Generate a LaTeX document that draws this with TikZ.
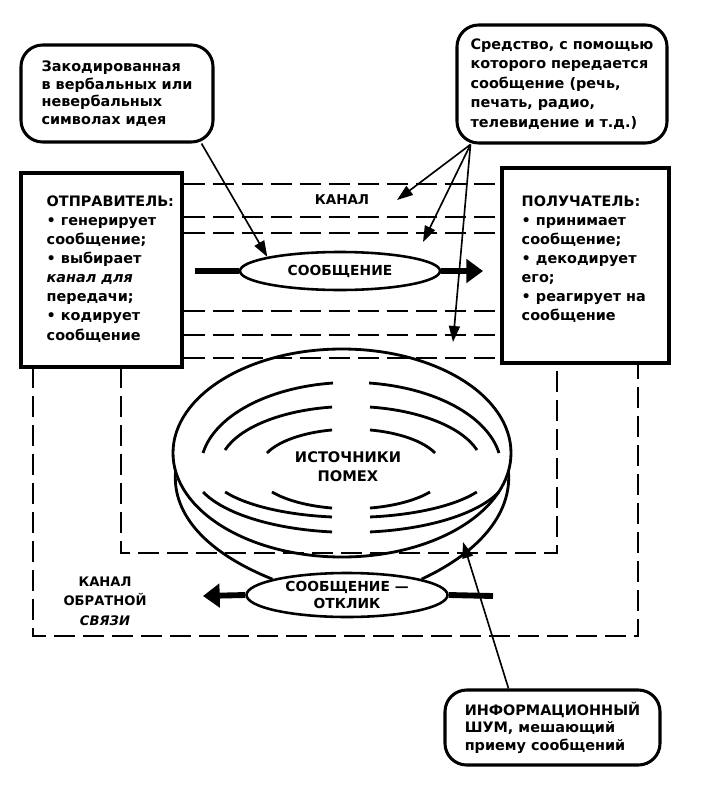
\documentclass[tikz,border=0pt]{standalone}
\usepackage{fontspec}
\setmainfont{DejaVu Sans}
\usepackage{tikz}
\usetikzlibrary{arrows.meta,shapes.geometric,positioning}

\begin{document}
\begin{tikzpicture}[x=0.03cm,y=-0.03cm,
        font=\fontsize{12.3}{16.3}\selectfont\bfseries,
        frame/.style={draw,line width=2.6pt,inner sep=0pt},
        callout/.style={draw,line width=2.6pt,rounded corners=0.65cm,align=left,inner sep=0pt},
        channel/.style={line width=2.4pt,dash pattern=on 0.63cm off 0.24cm},
        bubble/.style={draw,ellipse,line width=2.2pt,inner sep=0pt,align=center,font=\fontsize{11.8}{14.5}\selectfont\bfseries},
        wave/.style={line width=2.4pt},
        pointer/.style={line width=1.4pt,-{Triangle[length=0.48cm,width=0.33cm]}},
        fat/.style={line width=5pt},
        fatarrow/.style={line width=5pt,-{Triangle[length=0.5cm,width=0.7cm]}}]
        \useasboundingbox (0,0) rectangle (710,785);

        % Callouts
        \node[callout,minimum width=5.76cm,minimum height=2.91cm,font=\fontsize{12.3}{15}\selectfont\bfseries] (idea) at (117,93.5)
            {Закодированная\\в вербальных или\\невербальных\\символах идея};
        \node[callout,minimum width=6.3cm,minimum height=3.54cm,font=\fontsize{12.3}{16.6}\selectfont\bfseries] (medium) at (562,84)
            {Средство, с помощью\\которого передается\\сообщение (речь,\\печать, радио,\\телевидение и т.д.)};
        \node[callout,minimum width=6.45cm,minimum height=2.25cm,font=\fontsize{12.3}{15}\selectfont\bfseries] (noise) at (552.5,727.5)
            {ИНФОРМАЦИОННЫЙ\\ШУМ, мешающий\\приему сообщений};

        % Sender and receiver
        \node[frame,minimum width=4.83cm,minimum height=5.82cm] (sender) at (101.5,270) {};
        \node[frame,minimum width=5.01cm,minimum height=5.85cm] (receiver) at (585.5,265.5) {};
        \node[align=left,anchor=north west,inner sep=0pt] (sendtext) at ([shift={(27,24)}]sender.north west)
            {ОТПРАВИТЕЛЬ:\\• генерирует\\сообщение;\\• выбирает\\\textit{канал для}\\передачи;\\• кодирует\\сообщение};
        \node[align=left,anchor=north west,inner sep=0pt] (recvtext) at ([shift={(21,29)}]receiver.north west)
            {ПОЛУЧАТЕЛЬ:\\• принимает\\сообщение;\\• декодирует\\его;\\• реагирует на\\сообщение};

        % Channel
        \foreach \y in {184,217,233,311,335,358}
            \draw[channel] (sender.east |- 0,\y) -- (receiver.west |- 0,\y);
        \node[font=\fontsize{11.5}{15}\selectfont\bfseries] (kanal) at (342,200) {КАНАЛ};

        % Feedback channel
        \draw[channel] (33,367) |- (638,636) -- (638,363);
        \draw[channel] (121,367) |- (557,553) -- (557,363);
        \node[align=center,font=\fontsize{11.2}{16.5}\selectfont\bfseries] (fblabel) at (105,601)
            {КАНАЛ\\ОБРАТНОЙ\\\textit{СВЯЗИ}};

        % Messages
        \node[bubble,minimum width=6cm,minimum height=1.14cm] (msg) at (340,271) {СООБЩЕНИЕ};
        \node[bubble,minimum width=6.03cm,minimum height=1.32cm] (reply) at (347,595) {СООБЩЕНИЕ —\\ОТКЛИК};
        \coordinate (msgin) at (195,271);
        \coordinate (msgout) at (483,271);
        \coordinate (replyin) at (493,596);
        \coordinate (replyout) at (203,596);
        \draw[fat] (msgin) -- (msg.west);
        \draw[fatarrow] (msg.east) -- (msgout);
        \draw[fat] (replyin) -- (reply.east);
        \draw[fatarrow] (reply.west) -- (replyout);

        % Noise sources
        \draw[wave] (342,453) ellipse[x radius=169, y radius=104];
        \draw[wave] (175.6,471) .. controls (172,510) and (200,550) .. (reply.168);
        \draw[wave] (508.4,471) .. controls (512,510) and (484,550) .. (reply.12);
        \foreach \rx/\ry/\ta/\tb/\bx/\by/\ba/\bb in {150.3/85.6/83.1/10.1/158/62.4/83.1/20.6,
                131.7/61.6/81.7/17/142/47.4/82.3/27.6, 91.1/38.9/78/22.7/95.9/38.8/78.6/34.5}{
            \draw[wave] (351,468) ++({-\tb}:{\rx} and {\ry}) arc[start angle={-\tb}, end angle={-\ta}, x radius=\rx, y radius=\ry];
            \draw[wave] (351,468) ++({\ta-180}:{\rx} and {\ry}) arc[start angle={\ta-180}, end angle={\tb-180}, x radius=\rx, y radius=\ry];
            \draw[wave] (351,470) ++({\ba}:{\bx} and {\by}) arc[start angle=\ba, end angle=\bb, x radius=\bx, y radius=\by];
            \draw[wave] (351,470) ++({180-\bb}:{\bx} and {\by}) arc[start angle={180-\bb}, end angle={180-\ba}, x radius=\bx, y radius=\by];
        }
        \node[align=center,font=\fontsize{12.5}{16}\selectfont\bfseries] (sources) at (348,467) {ИСТОЧНИКИ\\ПОМЕХ};

        % Pointers from the callouts
        \coordinate (chanA) at (397,200);
        \coordinate (chanB) at (423,242);
        \coordinate (chanC) at (453,342);
        \coordinate (noisetip) at (463,542);
        \draw[pointer] ([shift={(-13,0)}]idea.south east) -- (msg.169);
        \draw[pointer] ([shift={(15,0)}]medium.south west) -- (chanA);
        \draw[pointer] ([shift={(15,0)}]medium.south west) -- (chanB);
        \draw[pointer] ([shift={(15,0)}]medium.south west) -- (chanC);
        \draw[pointer] ([shift={(-44,0)}]noise.north) -- (noisetip);
\end{tikzpicture}
\end{document}
